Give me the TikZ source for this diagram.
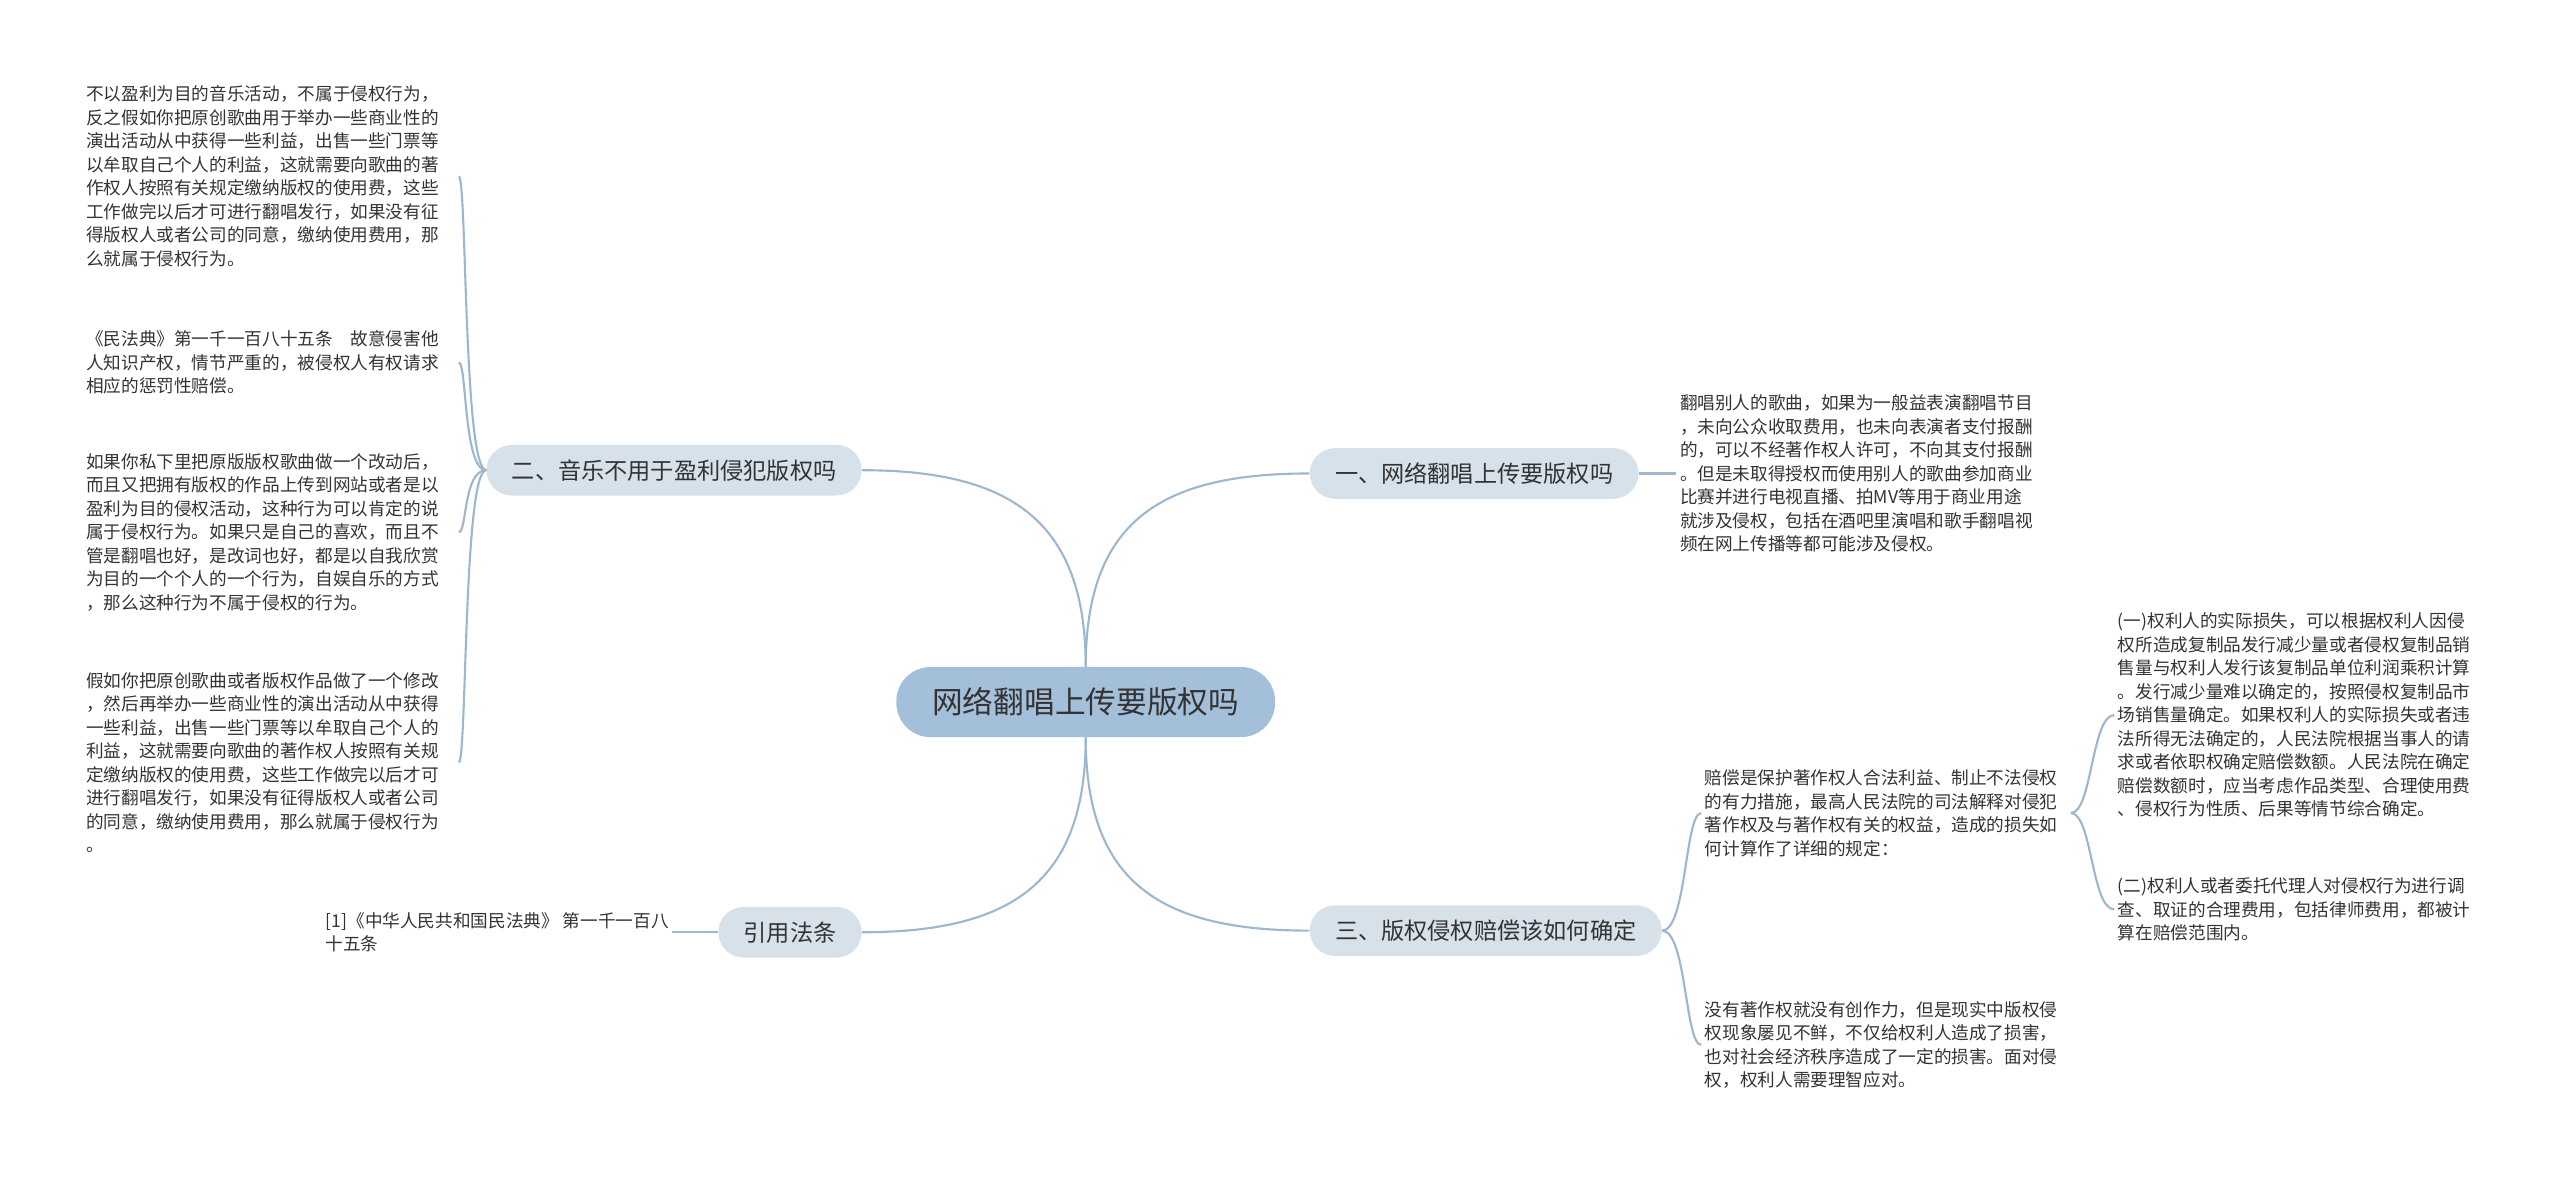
\documentclass[tikz,border=0pt]{standalone}
\usepackage{fontspec}
\setmainfont{Noto Sans CJK SC}
\usepackage{tikz}
\usetikzlibrary{positioning}
\definecolor{linecol}{HTML}{9DB7CF}
\definecolor{branchfill}{HTML}{D6E1EA}
\definecolor{rootfill}{HTML}{A3BFD9}
\definecolor{txt}{HTML}{333333}

\begin{document}
\begin{tikzpicture}[x=1bp,y=-1bp]
    \tikzset{
        leaf/.style={font=\fontsize{10.8bp}{14.4bp}\selectfont, align=left, inner xsep=2bp, inner ysep=0pt, text=txt},
        branch/.style={fill=branchfill, rounded corners=15.5bp, minimum height=31bp, inner xsep=15.5bp, inner ysep=0pt, font=\fontsize{14.2bp}{16bp}\selectfont, text=txt},
        root/.style={fill=rootfill, rounded corners=21bp, minimum width=232bp, minimum height=43bp, font=\fontsize{18.8bp}{20bp}\selectfont, text=txt},
        link/.style={draw=linecol, line width=1.3bp},
    }
    \useasboundingbox (0,0) rectangle (1568,722);
    % centre and branches
    \node[root] (root) at (665,430) {网络翻唱上传要版权吗};
    \node[branch, anchor=west] (b1) at (802,290) {一、网络翻唱上传要版权吗};
    \node[branch, anchor=east] (b2) at (528,288) {二、音乐不用于盈利侵犯版权吗};
    \node[branch, anchor=west] (b3) at (802,570) {三、版权侵权赔偿该如何确定};
    \node[branch, anchor=east] (b4) at (528,571) {引用法条};
    % left leaves
    \node[leaf, text width=226bp, anchor=east] (l1) at (281,108) {不以盈利为目的音乐活动，不属于侵权行为，\\
        反之假如你把原创歌曲用于举办一些商业性的\\
        演出活动从中获得一些利益，出售一些门票等\\
        以牟取自己个人的利益，这就需要向歌曲的著\\
        作权人按照有关规定缴纳版权的使用费，这些\\
        工作做完以后才可进行翻唱发行，如果没有征\\
        得版权人或者公司的同意，缴纳使用费用，那\\
        么就属于侵权行为。};
    \node[leaf, text width=226bp, anchor=east] (l2) at (281,222) {《民法典》第一千一百八十五条\quad 故意侵害他\\
        人知识产权，情节严重的，被侵权人有权请求\\
        相应的惩罚性赔偿。};
    \node[leaf, text width=226bp, anchor=east] (l3) at (281,326) {如果你私下里把原版版权歌曲做一个改动后，\\
        而且又把拥有版权的作品上传到网站或者是以\\
        盈利为目的侵权活动，这种行为可以肯定的说\\
        属于侵权行为。如果只是自己的喜欢，而且不\\
        管是翻唱也好，是改词也好，都是以自我欣赏\\
        为目的一个个人的一个行为，自娱自乐的方式\\
        ，那么这种行为不属于侵权的行为。};
    \node[leaf, text width=226bp, anchor=east] (l4) at (281,467) {假如你把原创歌曲或者版权作品做了一个修改\\
        ，然后再举办一些商业性的演出活动从中获得\\
        一些利益，出售一些门票等以牟取自己个人的\\
        利益，这就需要向歌曲的著作权人按照有关规\\
        定缴纳版权的使用费，这些工作做完以后才可\\
        进行翻唱发行，如果没有征得版权人或者公司\\
        的同意，缴纳使用费用，那么就属于侵权行为\\
        。};
    \node[leaf, left=28bp of b4] (cite) {[1]《中华人民共和国民法典》 第一千一百八\\
        十五条};
    % right leaves
    \node[leaf, right=23bp of b1] (r1) {翻唱别人的歌曲，如果为一般益表演翻唱节目\\
        ，未向公众收取费用，也未向表演者支付报酬\\
        的，可以不经著作权人许可，不向其支付报酬\\
        。但是未取得授权而使用别人的歌曲参加商业\\
        比赛并进行电视直播、拍MV等用于商业用途\\
        就涉及侵权，包括在酒吧里演唱和歌手翻唱视\\
        频在网上传播等都可能涉及侵权。};
    \node[leaf, text width=222bp, anchor=west] (c1) at (1042,498) {赔偿是保护著作权人合法利益、制止不法侵权\\
        的有力措施，最高人民法院的司法解释对侵犯\\
        著作权及与著作权有关的权益，造成的损失如\\
        何计算作了详细的规定：};
    \node[leaf, anchor=west] (c2) at (1042,640) {没有著作权就没有创作力，但是现实中版权侵\\
        权现象屡见不鲜，不仅给权利人造成了损害，\\
        也对社会经济秩序造成了一定的损害。面对侵\\
        权，权利人需要理智应对。};
    \node[leaf, anchor=west] (d1) at (1295,438) {(一)权利人的实际损失，可以根据权利人因侵\\
        权所造成复制品发行减少量或者侵权复制品销\\
        售量与权利人发行该复制品单位利润乘积计算\\
        。发行减少量难以确定的，按照侵权复制品市\\
        场销售量确定。如果权利人的实际损失或者违\\
        法所得无法确定的，人民法院根据当事人的请\\
        求或者依职权确定赔偿数额。人民法院在确定\\
        赔偿数额时，应当考虑作品类型、合理使用费\\
        、侵权行为性质、后果等情节综合确定。};
    \node[leaf, anchor=west] (d2) at (1295,557) {(二)权利人或者委托代理人对侵权行为进行调\\
        查、取证的合理费用，包括律师费用，都被计\\
        算在赔偿范围内。};
    % connectors
    \draw[link] (root.north) .. controls +(0,-90) and +(90,0) .. (b2.east);
    \draw[link] (root.north) .. controls +(0,-90) and +(-90,0) .. (b1.west);
    \draw[link] (root.south) .. controls +(0,90) and +(-90,0) .. (b3.west);
    \draw[link] (root.south) .. controls +(0,90) and +(90,0) .. (b4.east);
    \foreach \n in {l1,l2,l3,l4}
        \draw[link] (b2.west) .. controls +(-14,0) and +(5,0) .. (\n.east);
    \draw[link] (b1.east) -- (r1.west);
    \draw[link] (b4.west) -- (cite.east);
    \foreach \n in {c1,c2}
        \draw[link] (b3.east) .. controls +(15,0) and +(-10,0) .. (\n.west);
    \foreach \n in {d1,d2}
        \draw[link] (c1.east) .. controls +(13,0) and +(-14,0) .. (\n.west);
\end{tikzpicture}
\end{document}
